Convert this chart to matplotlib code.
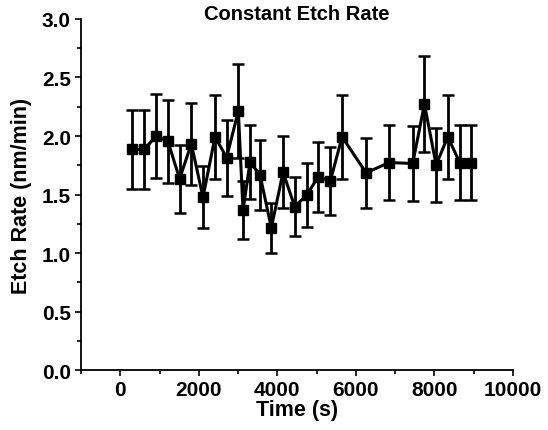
import matplotlib
matplotlib.use("Agg")
import matplotlib.pyplot as plt
from matplotlib.ticker import MultipleLocator

plt.rcParams['font.family'] = ['Liberation Sans', 'DejaVu Sans']
plt.rcParams['font.weight'] = 'bold'

# data
time_s = [306, 611, 909, 1215, 1511, 1809, 2107, 2413, 2708, 3006,
          3126, 3304, 3559, 3847, 4145, 4441, 4747, 5037, 5350, 5648,
          6260, 6846, 7447, 7745, 8043, 8339, 8644, 8943]
etch_rate = [1.885, 1.885, 1.999, 1.953, 1.634, 1.933, 1.477, 1.993, 1.816, 2.213,
             1.366, 1.777, 1.666, 1.215, 1.691, 1.397, 1.494, 1.651, 1.617, 1.993,
             1.685, 1.773, 1.765, 2.273, 1.754, 1.993, 1.773, 1.773]
rate_err = [0.341, 0.338, 0.361, 0.352, 0.292, 0.351, 0.265, 0.361, 0.325, 0.399,
            0.248, 0.318, 0.298, 0.214, 0.305, 0.252, 0.271, 0.301, 0.291, 0.361,
            0.302, 0.319, 0.321, 0.408, 0.314, 0.361, 0.319, 0.319]

fig = plt.figure(figsize=(5.48, 4.31), dpi=100)
ax = fig.add_axes([0.1478, 0.1392, 0.7883, 0.8144])

ax.errorbar(time_s, etch_rate, yerr=rate_err, color='black', ecolor='black',
            elinewidth=2.0, capsize=4.0, capthick=1.8,
            linewidth=2.2, marker='s', markersize=7.4, zorder=3)

ax.set_xlim(-1000, 10000)
ax.set_ylim(0.0, 3.0)
ax.xaxis.set_major_locator(MultipleLocator(2000))
ax.xaxis.set_minor_locator(MultipleLocator(1000))
ax.yaxis.set_major_locator(MultipleLocator(0.5))
ax.yaxis.set_minor_locator(MultipleLocator(0.25))
ax.yaxis.set_major_formatter(plt.FormatStrFormatter('%.1f'))

ax.spines['top'].set_visible(False)
ax.spines['right'].set_visible(False)
for s in ['left', 'bottom']:
    ax.spines[s].set_linewidth(1.3)

ax.tick_params(which='major', direction='out', length=4.3, width=1.2, labelsize=15, pad=3)
ax.tick_params(which='minor', direction='out', length=2.6, width=1.2)

ax.set_xlabel('Time (s)', fontsize=15.5, fontweight='bold', labelpad=0)
ax.set_ylabel('Etch Rate (nm/min)', fontsize=15.5, fontweight='bold', labelpad=7)
fig.text(0.5420, 1 - 20 / 431, 'Constant Etch Rate', fontsize=14.5, fontweight='bold',
         ha='center', va='baseline')

fig.savefig('out.png', dpi=100)
